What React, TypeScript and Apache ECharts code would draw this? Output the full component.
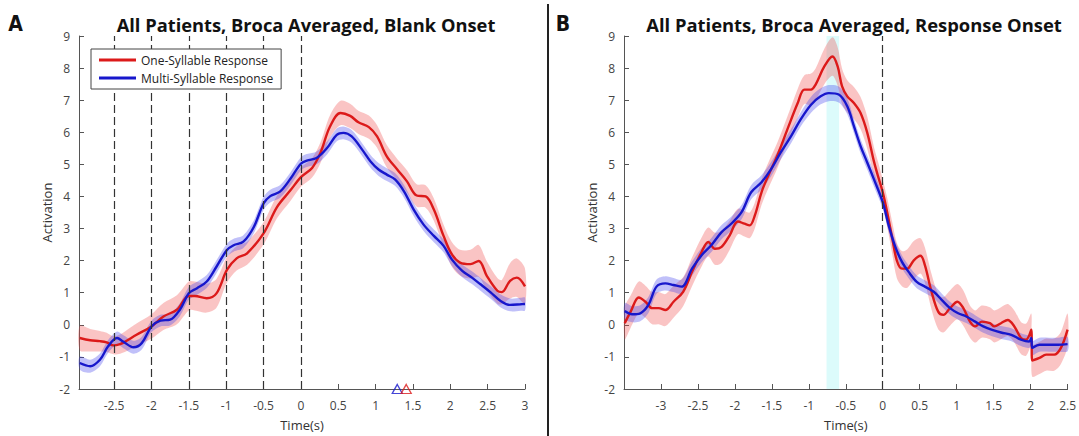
import React, { useEffect, useRef } from "react";
import * as echarts from "echarts";

// ---------- Panel A (Blank Onset) ----------
const tA_one = [-2.96, -2.82, -2.69, -2.6, -2.51, -2.42, -2.35, -2.2, -2.0, -1.84, -1.66, -1.5, -1.42, -1.26, -1.13, -0.99, -0.86, -0.72, -0.5, -0.32, -0.14, 0, 0.15, 0.26, 0.39, 0.53, 0.66, 0.77, 0.91, 1.02, 1.15, 1.29, 1.42, 1.55, 1.67, 1.78, 1.91, 2.02, 2.13, 2.27, 2.38, 2.49, 2.63, 2.69, 2.8, 2.89, 3.0];
const vA_one = [-0.41, -0.48, -0.51, -0.55, -0.64, -0.6, -0.52, -0.31, -0.05, 0.26, 0.47, 0.9, 0.9, 0.83, 0.98, 1.71, 2.07, 2.23, 2.85, 3.67, 4.19, 4.6, 4.89, 5.35, 6.18, 6.6, 6.51, 6.31, 6.16, 5.87, 5.25, 4.84, 4.47, 4.03, 4.0, 3.59, 2.77, 2.2, 1.94, 1.89, 1.99, 1.52, 1.06, 1.02, 1.37, 1.47, 1.2];
const eA_one = [0.38, 0.35, 0.32, 0.3, 0.28, 0.3, 0.32, 0.35, 0.38, 0.42, 0.45, 0.45, 0.45, 0.45, 0.45, 0.4, 0.38, 0.36, 0.35, 0.35, 0.33, 0.3, 0.3, 0.32, 0.35, 0.38, 0.38, 0.36, 0.36, 0.35, 0.35, 0.33, 0.35, 0.35, 0.35, 0.35, 0.35, 0.38, 0.4, 0.45, 0.5, 0.45, 0.4, 0.38, 0.55, 0.6, 0.55];

const tA_multi = [-2.96, -2.82, -2.69, -2.58, -2.46, -2.38, -2.24, -2.13, -2.0, -1.88, -1.75, -1.62, -1.5, -1.39, -1.26, -1.13, -0.99, -0.9, -0.77, -0.63, -0.5, -0.41, -0.28, -0.14, 0, 0.08, 0.21, 0.35, 0.48, 0.57, 0.68, 0.82, 0.93, 1.04, 1.15, 1.26, 1.38, 1.51, 1.64, 1.78, 1.91, 2.02, 2.16, 2.29, 2.4, 2.54, 2.67, 2.8, 2.94, 3.0];
const vA_multi = [-1.19, -1.29, -1.09, -0.67, -0.41, -0.52, -0.7, -0.57, -0.05, 0.13, 0.16, 0.47, 0.98, 1.14, 1.35, 1.81, 2.33, 2.48, 2.59, 3.05, 3.78, 4.01, 4.15, 4.55, 5.02, 5.12, 5.2, 5.51, 5.92, 5.98, 5.87, 5.46, 5.1, 4.84, 4.68, 4.53, 4.16, 3.59, 3.13, 2.77, 2.46, 2.04, 1.68, 1.47, 1.27, 1.01, 0.75, 0.62, 0.64, 0.65];
const eA_multi = [0.2, 0.2, 0.2, 0.2, 0.2, 0.2, 0.2, 0.2, 0.18, 0.18, 0.18, 0.2, 0.2, 0.2, 0.2, 0.2, 0.2, 0.2, 0.2, 0.2, 0.2, 0.2, 0.2, 0.2, 0.2, 0.2, 0.2, 0.2, 0.2, 0.2, 0.2, 0.2, 0.2, 0.2, 0.2, 0.2, 0.2, 0.2, 0.2, 0.2, 0.2, 0.2, 0.2, 0.2, 0.2, 0.2, 0.2, 0.2, 0.2, 0.2];

const dashedA = [-2.5, -2, -1.5, -1, -0.5, 0];
const triangleMulti = [1.29, -2];
const triangleOne = [1.41, -2];

// ---------- Panel B (Response Onset) ----------
const tB_one = [-3.49, -3.41, -3.3, -3.21, -3.12, -3.03, -2.94, -2.83, -2.7, -2.58, -2.45, -2.36, -2.27, -2.18, -2.07, -1.96, -1.87, -1.8, -1.73, -1.64, -1.55, -1.42, -1.29, -1.15, -1.06, -0.97, -0.91, -0.79, -0.68, -0.61, -0.55, -0.48, -0.39, -0.3, -0.21, -0.12, -0.06, 0, 0.06, 0.13, 0.19, 0.26, 0.33, 0.42, 0.51, 0.57, 0.66, 0.75, 0.82, 0.91, 1.01, 1.09, 1.18, 1.25, 1.34, 1.45, 1.51, 1.6, 1.69, 1.78, 1.87, 1.94, 2.01, 2.02, 2.12, 2.21, 2.32, 2.41, 2.5];
const vB_one = [0.05, 0.41, 0.85, 0.72, 0.52, 0.52, 0.46, 0.72, 1.03, 1.65, 2.27, 2.58, 2.37, 2.43, 2.79, 3.22, 3.15, 3.1, 3.41, 4.13, 4.64, 5.31, 6.09, 6.91, 7.33, 7.33, 7.48, 8.05, 8.36, 8.05, 7.43, 7.12, 6.91, 6.6, 5.99, 5.1, 4.6, 4.13, 3.51, 2.68, 2.01, 1.75, 1.75, 2.01, 2.15, 1.86, 1.03, 0.41, 0.31, 0.52, 0.72, 0.52, 0.1, -0.05, 0.1, 0.05, -0.05, 0.05, 0.15, -0.05, -0.41, -0.46, -0.15, -1.11, -1.03, -0.93, -0.93, -0.72, -0.15];
const eB_one = [0.5, 0.5, 0.5, 0.5, 0.5, 0.5, 0.5, 0.5, 0.45, 0.45, 0.45, 0.45, 0.5, 0.5, 0.45, 0.4, 0.4, 0.4, 0.4, 0.4, 0.4, 0.4, 0.4, 0.45, 0.45, 0.5, 0.5, 0.55, 0.6, 0.6, 0.55, 0.5, 0.5, 0.5, 0.5, 0.45, 0.45, 0.4, 0.45, 0.5, 0.55, 0.55, 0.6, 0.6, 0.55, 0.55, 0.55, 0.55, 0.55, 0.55, 0.55, 0.55, 0.5, 0.5, 0.5, 0.5, 0.5, 0.5, 0.5, 0.5, 0.5, 0.5, 0.5, 0.5, 0.5, 0.5, 0.5, 0.5, 0.5];

const tB_multi = [-3.49, -3.39, -3.28, -3.17, -3.06, -2.94, -2.83, -2.72, -2.58, -2.45, -2.32, -2.18, -2.05, -1.91, -1.78, -1.64, -1.51, -1.38, -1.24, -1.11, -0.97, -0.84, -0.73, -0.59, -0.48, -0.39, -0.3, -0.21, -0.12, 0, 0.08, 0.17, 0.26, 0.35, 0.46, 0.57, 0.69, 0.8, 0.91, 1.02, 1.13, 1.25, 1.36, 1.47, 1.6, 1.74, 1.87, 1.98, 2.01, 2.02, 2.12, 2.25, 2.37, 2.5];
const vB_multi = [0.43, 0.33, 0.36, 0.62, 1.19, 1.29, 1.24, 1.19, 1.75, 2.17, 2.48, 2.89, 3.15, 3.51, 4.13, 4.44, 4.85, 5.37, 5.88, 6.4, 6.86, 7.12, 7.22, 7.17, 6.81, 6.19, 5.57, 5.06, 4.54, 3.82, 3.1, 2.43, 1.96, 1.65, 1.34, 1.19, 1.03, 0.77, 0.52, 0.36, 0.26, 0.1, -0.05, -0.15, -0.24, -0.31, -0.46, -0.52, -0.41, -0.72, -0.62, -0.62, -0.62, -0.6];
const eB_multi = [0.25, 0.25, 0.25, 0.25, 0.22, 0.22, 0.22, 0.22, 0.22, 0.22, 0.22, 0.22, 0.22, 0.22, 0.22, 0.22, 0.22, 0.22, 0.22, 0.22, 0.25, 0.25, 0.25, 0.25, 0.25, 0.22, 0.22, 0.22, 0.22, 0.2, 0.2, 0.2, 0.2, 0.2, 0.2, 0.2, 0.2, 0.2, 0.2, 0.2, 0.2, 0.2, 0.2, 0.2, 0.2, 0.2, 0.2, 0.2, 0.2, 0.22, 0.22, 0.22, 0.22, 0.22];

const highlightB = [-0.76, -0.59];
const dashedB = [0];

const xTicksA = [-2.5, -2, -1.5, -1, -0.5, 0, 0.5, 1, 1.5, 2, 2.5, 3];
const xTicksB = [-3, -2.5, -2, -1.5, -1, -0.5, 0, 0.5, 1, 1.5, 2, 2.5];

const NAME_ONE = "One-Syllable Response";
const NAME_MULTI = "Multi-Syllable Response";
const RED = "#dc1a1a";
const BLUE = "#1717cc";
const RED_BAND = "rgba(238, 70, 70, 0.32)";
const BLUE_BAND = "rgba(60, 60, 235, 0.32)";
const FONT = "'Open Sans', 'Noto Sans', sans-serif";

function band(ts: number[], vs: number[], es: number[], fill: string, axis: number, extra: any = {}) {
  return {
    type: "custom",
    xAxisIndex: axis,
    yAxisIndex: axis,
    silent: true,
    z: 1,
    data: [[ts[0], vs[0]]],
    renderItem: (_p: any, api: any) => {
      const up = ts.map((t, i) => api.coord([t, vs[i] + es[i]]));
      const lo = ts.map((t, i) => api.coord([t, vs[i] - es[i]])).reverse();
      return {
        type: "polygon",
        shape: { points: up.concat(lo), smooth: 0.3 },
        style: { fill, stroke: "none" },
      };
    },
    ...extra,
  };
}

function line(name: string, ts: number[], vs: number[], color: string, axis: number) {
  return {
    type: "line",
    name,
    xAxisIndex: axis,
    yAxisIndex: axis,
    data: ts.map((t, i) => [t, vs[i]]),
    smooth: 0.35,
    showSymbol: false,
    symbol: "none",
    z: 3,
    lineStyle: { color, width: 2.4 },
    itemStyle: { color },
  };
}

function dashLines(xs: number[]) {
  return {
    silent: true,
    symbol: ["none", "none"],
    label: { show: false },
    lineStyle: { type: [8, 4], color: "#333", width: 1.2 },
    data: xs.map((x) => ({ xAxis: x })),
  };
}

function xAxis(grid: number, min: number, max: number, ticks: number[]) {
  return {
    type: "value",
    gridIndex: grid,
    min,
    max,
    name: "Time(s)",
    nameLocation: "middle",
    nameGap: 29,
    nameTextStyle: { fontFamily: FONT, fontSize: 13, color: "#333" },
    axisLine: { show: true, onZero: false, lineStyle: { color: "#555", width: 1 } },
    axisTick: { show: true, inside: true, length: 5, customValues: ticks, lineStyle: { color: "#555" } },
    axisLabel: { customValues: ticks, margin: 10, fontFamily: FONT, fontSize: 12, color: "#444" },
    splitLine: { show: false },
  };
}

function yAxis(grid: number) {
  return {
    type: "value",
    gridIndex: grid,
    min: -2,
    max: 9,
    interval: 1,
    name: "Activation",
    nameLocation: "middle",
    nameGap: 26,
    nameTextStyle: { fontFamily: FONT, fontSize: 13, color: "#333" },
    axisLine: { show: true, onZero: false, lineStyle: { color: "#555", width: 1 } },
    axisTick: { show: true, inside: true, length: 5, lineStyle: { color: "#555" } },
    axisLabel: { margin: 9, fontFamily: FONT, fontSize: 12, color: "#444" },
    splitLine: { show: false },
  };
}

function triangle(pt: number[], color: string) {
  return {
    type: "scatter",
    xAxisIndex: 0,
    yAxisIndex: 0,
    silent: true,
    clip: false,
    z: 5,
    symbol: "triangle",
    symbolSize: [10, 9],
    data: [pt],
    itemStyle: { color: "rgba(255,255,255,0)", borderColor: color, borderWidth: 1.3 },
  };
}

const option: any = {
  animation: false,
  backgroundColor: "#ffffff",
  title: [
    {
      text: "All Patients, Broca Averaged, Blank Onset",
      left: 301,
      top: 10,
      textAlign: "center",
      textStyle: { fontFamily: FONT, fontWeight: "bold", fontSize: 18.3, color: "#111" },
    },
    {
      text: "All Patients, Broca Averaged, Response Onset",
      left: 849,
      top: 10,
      textAlign: "center",
      textStyle: { fontFamily: FONT, fontWeight: "bold", fontSize: 18.4, color: "#111" },
    },
  ],
  legend: {
    data: [NAME_ONE, NAME_MULTI],
    orient: "vertical",
    left: 91,
    top: 49,
    padding: [4, 8],
    itemGap: 4,
    itemWidth: 37,
    itemHeight: 3,
    icon: "rect",
    backgroundColor: "#ffffff",
    borderColor: "#444",
    borderWidth: 1,
    borderRadius: 0,
    z: 6,
    textStyle: { fontFamily: FONT, fontSize: 12, color: "#222", lineHeight: 14 },
  },
  grid: [
    { left: 79, top: 36, width: 446, height: 353 },
    { left: 624, top: 36, width: 446, height: 355 },
  ],
  xAxis: [xAxis(0, -2.97, 3, xTicksA), xAxis(1, -3.5, 2.5, xTicksB)],
  yAxis: [yAxis(0), yAxis(1)],
  graphic: [
    { type: "line", shape: { x1: 548, y1: 4, x2: 548, y2: 436 }, style: { stroke: "#222", lineWidth: 2 } },
    {
      type: "text",
      x: 15.5,
      y: 23.5,
      style: { text: "A", font: "bold 21px 'Liberation Sans Narrow', 'DejaVu Sans Condensed', sans-serif", fill: "#111", align: "center", verticalAlign: "middle" },
    },
    {
      type: "text",
      x: 563,
      y: 23.5,
      style: { text: "B", font: "bold 21px 'Liberation Sans Narrow', 'DejaVu Sans Condensed', sans-serif", fill: "#111", align: "center", verticalAlign: "middle" },
    },
  ],
  series: [
    band(tA_one, vA_one, eA_one, RED_BAND, 0, { markLine: dashLines(dashedA) }),
    band(tA_multi, vA_multi, eA_multi, BLUE_BAND, 0),
    line(NAME_ONE, tA_one, vA_one, RED, 0),
    line(NAME_MULTI, tA_multi, vA_multi, BLUE, 0),
    triangle(triangleMulti, BLUE),
    triangle(triangleOne, RED),
    band(tB_one, vB_one, eB_one, RED_BAND, 1, {
      markLine: dashLines(dashedB),
      markArea: {
        silent: true,
        itemStyle: { color: "#dcfbfb" },
        data: [[{ xAxis: highlightB[0] }, { xAxis: highlightB[1] }]],
      },
    }),
    band(tB_multi, vB_multi, eB_multi, BLUE_BAND, 1),
    line(NAME_ONE, tB_one, vB_one, RED, 1),
    line(NAME_MULTI, tB_multi, vB_multi, BLUE, 1),
  ],
};

export default function App() {
  const ref = useRef<HTMLDivElement>(null);
  useEffect(() => {
    if (!ref.current) return;
    const chart = echarts.init(ref.current, null, { renderer: "svg" });
    chart.setOption(option);
    return () => chart.dispose();
  }, []);
  return <div ref={ref} style={{ position: "fixed", left: 0, top: 0, width: 1079, height: 436 }} />;
}
